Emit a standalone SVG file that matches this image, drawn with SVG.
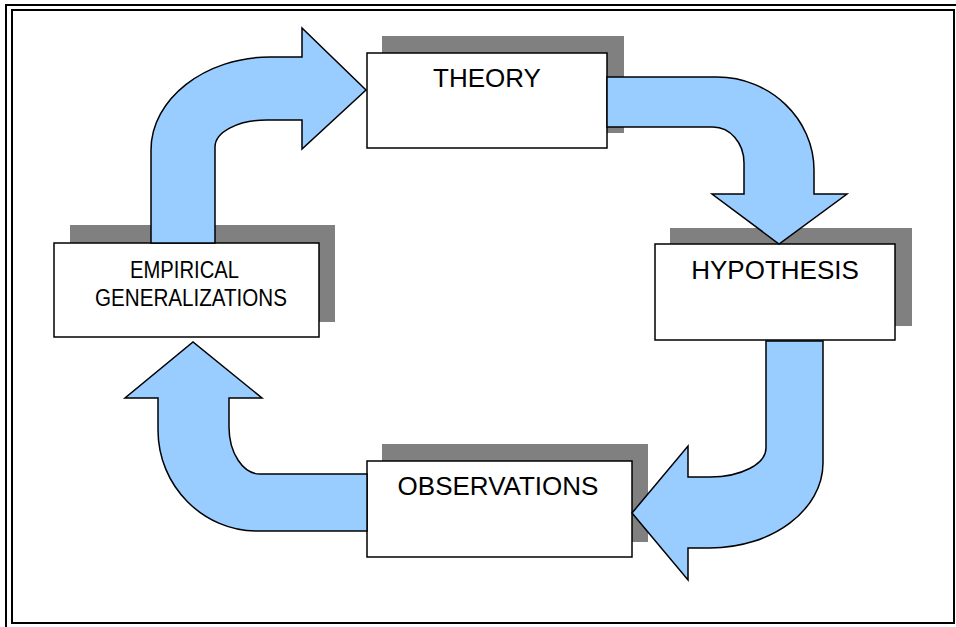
<svg xmlns="http://www.w3.org/2000/svg" width="956" height="627" viewBox="0 0 956 627">
<style>
.bg{fill:#ffffff}
.frame{fill:none;stroke:#000000;stroke-width:2}
.shadow{fill:#808080}
.box{fill:#ffffff;stroke:#000000;stroke-width:1.5}
.lbl{font-family:"Liberation Sans",Arial,sans-serif;font-size:26px;fill:#000000;text-anchor:middle}
.lbl2{font-family:"Liberation Sans Narrow","Liberation Sans",Arial,sans-serif;font-size:23px;fill:#000000}
.arrow{fill:#99CCFF;stroke:#000000;stroke-width:1.5;stroke-linejoin:miter}
</style>
<rect class="bg" x="0" y="0" width="956" height="627"/>
<rect class="frame" x="6" y="5" width="954" height="624"/>
<rect class="frame" x="12" y="10" width="942" height="613"/>

<g id="theory">
  <rect class="shadow" x="382" y="36" width="242" height="97"/>
  <rect class="box" x="367" y="53" width="240" height="95"/>
  <text class="lbl" x="487" y="87">THEORY</text>
</g>
<g id="hypothesis">
  <rect class="shadow" x="670" y="228" width="242" height="98"/>
  <rect class="box" x="655" y="244" width="240" height="96"/>
  <text class="lbl" x="775" y="279">HYPOTHESIS</text>
</g>
<g id="observations">
  <rect class="shadow" x="382" y="444" width="266" height="98"/>
  <rect class="box" x="367" y="461" width="265" height="96"/>
  <text class="lbl" x="498" y="495">OBSERVATIONS</text>
</g>
<g id="empirical">
  <rect class="shadow" x="70" y="225" width="265" height="97"/>
  <rect class="box" x="54" y="243" width="265" height="94"/>
  <text class="lbl2" x="130" y="278" textLength="109" lengthAdjust="spacingAndGlyphs">EMPIRICAL</text>
  <text class="lbl2" x="95" y="306" textLength="192" lengthAdjust="spacingAndGlyphs">GENERALIZATIONS</text>
</g>

<g id="connectors">
  <path class="arrow" d="M151,243 L151,150 C151,99 205,57 270,57 L302,57 L302,28 L366,90 L302,149 L302,120 L267,120 C238,120 215,132 215,147 L215,243 Z"/>
  <path class="arrow" d="M607,77 L717,77 C770,77 814,119 814,170 L814,194 L847,194 L779,244 L712,194 L744,194 L744,163 C744,143 730,127 713,127 L607,127 Z"/>
  <path class="arrow" d="M766,341 L823,341 L823,463 C823,510 772,548 710,548 L688,548 L688,580 L632,513 L688,446 L688,477 L710,477 C741,477 766,464 766,448 Z"/>
  <path class="arrow" d="M367,474 L260,474 C243,474 229,453 229,427 L229,398 L262,398 L193,342 L125,398 L158,398 L158,430 C158,486 203,531 257,531 L367,531 Z"/>
</g>
</svg>
